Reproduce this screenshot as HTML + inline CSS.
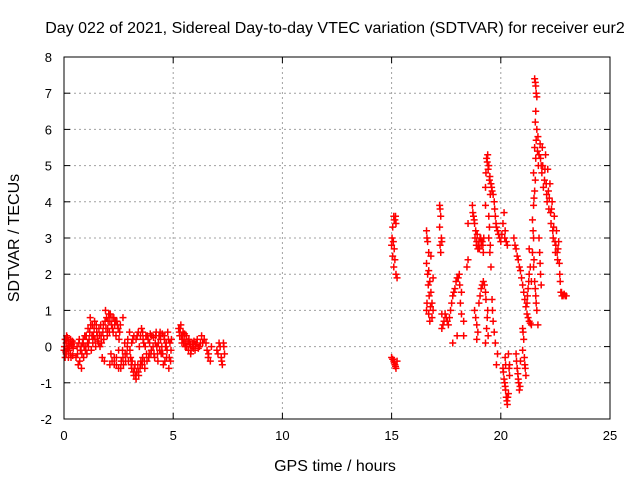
<!DOCTYPE html>
<html><head><meta charset="utf-8"><style>
body{margin:0;background:#fff}
svg{display:block;font-family:"Liberation Sans",sans-serif}
</style></head><body>
<svg id="c" width="640" height="480" xmlns="http://www.w3.org/2000/svg">
<text x="335" y="33" text-anchor="middle" font-size="16">Day 022 of 2021, Sidereal Day-to-day VTEC variation (SDTVAR) for receiver eur2</text>
<text x="335" y="471" text-anchor="middle" font-size="16">GPS time / hours</text>
<text transform="translate(19,238) rotate(-90)" text-anchor="middle" font-size="16">SDTVAR / TECUs</text>
<g id="grid"></g>
<g id="ticks"></g>
<g id="pts"></g>
<rect x="64" y="57" width="546" height="362" fill="none" stroke="#000" stroke-width="1"/>
</svg>
<script>
const xTicks=[0,5,10,15,20,25];
const yTicks=[-2,-1,0,1,2,3,4,5,6,7,8];
const hours=[0.00,0.05,0.05,0.1,0.1,0.15,0.15,0.2,0.2,0.25,0.3,0.3,0.35,0.4,0.45,
0.55,0.6,0.65,0.7,0.75,0.8,0.85,0.9,0.95,1.0,1.05,1.1,1.15,1.2,1.25,1.3,1.35,1.4,1.45,1.5,1.55,1.6,1.65,1.7,1.75,1.8,1.85,1.9,1.95,2.0,2.05,2.1,2.1,2.15,2.2,2.25,2.3,2.35,2.4,2.45,2.5,2.55,2.6,2.7,2.7,2.8,2.9,2.95,3.0,3.05,3.1,3.15,3.2,3.25,3.3,3.35,3.4,3.45,3.5,3.55,3.6,3.65,3.7,3.75,3.8,3.85,3.9,3.95,4.0,4.1,4.15,4.2,4.25,4.3,4.35,4.4,4.45,4.5,4.55,4.6,4.65,4.7,4.75,4.8,4.85,4.9,
5.25,5.3,5.35,5.4,5.45,5.5,5.55,5.6,5.7,5.75,5.8,5.9,5.95,6.0,6.1,6.2,6.3,6.35,6.5,6.6,6.7,6.75,7.0,7.1,7.2,7.25,7.3,7.35,
15.0,15.05,15.1,15.15,15.2,15.05,15.1,15.2,15.25,15.0,15.1,15.15,15.2,15.25,
16.6,16.65,16.7,16.6,16.7,16.75,16.8,16.85,16.6,16.9,16.75,16.8,16.9,17.2,17.25,17.2,17.3,17.25,17.3,17.3,17.4,17.5,17.6,17.7,17.8,17.9,18.0,18.1,18.2,18.15,18.2,18.3,18.3,18.0,17.8,
18.5,18.5,18.45,18.7,18.75,18.8,18.85,18.9,18.95,19.0,19.05,19.1,19.15,19.2,
18.8,18.9,18.9,19.0,19.1,19.2,19.3,19.4,19.35,19.3,
19.3,19.3,19.35,19.4,19.45,19.5,19.55,19.45,19.45,19.5,19.55,19.6,19.7,19.75,19.8,19.9,20.0,20.05,20.15,20.2,20.25,20.3,19.6,19.65,19.75,19.8,19.85,
20.1,20.15,20.2,20.25,20.3,20.35,20.4,20.2,20.4,
20.6,20.7,20.8,20.9,21.0,21.1,21.2,21.3,21.4,20.7,20.75,20.8,20.85,20.9,21.0,21.05,21.0,21.1,21.15,21.2,21.25,21.3,21.3,21.4,
21.55,21.6,21.65,21.6,21.65,21.55,21.6,21.7,21.5,21.55,21.5,21.45,21.5,21.45,21.5,21.55,21.6,21.65,21.7,21.8,21.85,21.9,22.0,22.05,22.1,22.15,22.2,22.25,22.3,22.35,22.4,22.45,22.5,22.55,22.6,22.65,22.7,22.75,22.8,22.9,23.0,21.75,21.8,21.85,
0.02,0.08,0.12,0.18,0.22,0.28,0.32,0.38,0.42,
0.62,0.68,0.72,0.78,0.82,0.88,0.92,0.98,1.02,1.08,
1.12,1.18,1.22,1.28,1.32,1.38,1.42,1.48,1.52,1.58,1.62,1.68,1.72,1.78,1.82,1.88,
1.92,1.98,2.02,2.08,2.12,2.18,2.22,2.28,2.32,2.38,2.42,2.48,2.52,2.58,2.2,2.3,2.4,2.5,
2.62,2.68,2.72,2.78,2.82,2.88,2.92,
3.02,3.08,3.12,3.18,3.22,3.28,3.32,3.38,3.42,3.48,3.52,3.58,3.1,3.2,3.3,3.4,3.5,3.6,
3.62,3.68,3.72,3.78,3.82,3.88,3.92,3.98,4.02,4.08,4.12,4.18,4.22,4.28,4.32,4.38,4.42,4.48,4.52,4.58,4.62,4.68,4.72,4.78,4.82,4.88,4.92,
5.28,5.32,5.38,5.42,5.48,5.52,5.58,5.62,5.68,5.72,5.78,5.82,5.88,5.92,6.02,6.08,6.15,6.25,6.42,6.55,6.62,7.05,7.15,7.22,7.32,
15.02,15.08,15.12,15.18,15.12,15.15,15.05,15.12,15.18,
16.62,16.65,16.68,16.72,16.62,16.78,16.7,16.85,17.22,17.28,17.22,17.35,17.45,17.55,17.65,17.75,17.85,17.95,18.05,18.12,
18.72,18.78,18.82,18.88,18.92,18.98,19.02,19.08,19.12,19.18,19.22,18.85,18.95,19.05,19.15,19.25,19.32,19.38,19.42,
19.32,19.38,19.42,19.48,19.52,19.58,19.65,19.72,19.78,19.85,19.95,20.1,20.18,19.48,19.52,19.62,19.7,
20.12,20.18,20.22,20.28,20.32,20.22,20.35,20.38,
20.65,20.75,20.85,20.95,21.05,21.15,21.25,21.35,20.72,20.78,20.82,20.88,21.02,21.08,21.12,21.22,21.28,21.35,
21.58,21.62,21.58,21.62,21.68,21.72,21.58,21.52,21.48,21.52,21.58,21.62,21.75,21.82,21.88,21.92,21.95,22.02,22.08,22.12,22.18,22.22,22.28,22.32,22.38,22.42,22.48,22.52,22.58,22.62,22.68,22.72,22.78,22.85,22.95,21.78,21.82];
const sdtvar=[-0.1,0.2,-0.3,0.1,-0.2,0.25,-0.05,-0.3,0.15,0.0,-0.2,0.2,0.05,-0.25,0.1,
-0.3,0.0,-0.5,0.2,-0.1,-0.6,0.1,-0.3,0.3,0.0,-0.2,0.5,0.2,0.8,-0.1,0.6,0.3,0.7,0.0,0.4,0.15,0.5,0.0,0.3,-0.3,0.6,-0.4,1.0,0.8,0.5,0.9,-0.5,0.7,-0.2,0.8,0.4,-0.3,0.7,-0.5,0.6,-0.1,0.4,-0.6,0.8,-0.3,-0.2,0.0,-0.4,0.4,-0.3,-0.6,0.2,-0.8,-0.5,-0.9,0.3,-0.7,0.0,-0.5,0.5,-0.3,0.1,-0.6,0.3,-0.4,0.2,-0.2,0.35,-0.1,0.25,-0.3,0.3,0.0,-0.4,0.3,0.4,-0.2,0.35,-0.5,0.2,0.0,-0.3,0.4,-0.6,0.1,-0.1,
0.5,0.3,0.6,0.1,0.4,0.2,0.0,0.3,-0.1,0.1,-0.2,0.0,0.15,-0.1,0.2,0.0,0.3,0.1,0.1,-0.3,-0.4,0.0,-0.1,0.1,-0.3,-0.5,0.1,-0.2,
2.8,3.3,3.6,3.5,3.4,2.5,2.2,2.0,1.9,-0.3,-0.4,-0.5,-0.6,-0.4,
3.2,2.9,2.6,2.3,2.1,1.8,1.5,1.2,1.0,1.0,0.7,2.5,1.9,3.9,3.6,3.3,2.9,2.6,0.9,0.5,0.7,0.8,0.6,1.0,1.4,1.6,1.9,2.0,1.5,1.2,0.9,0.7,0.3,0.3,0.1,
3.4,2.4,2.2,3.9,3.6,3.4,3.2,2.9,2.7,2.9,3.0,2.8,2.9,2.6,
1.0,0.6,0.2,1.2,1.6,1.8,1.5,1.0,0.5,0.1,
4.4,3.9,5.2,5.3,5.0,4.7,4.5,3.6,3.0,2.6,2.2,4.3,4.0,3.6,3.3,3.1,2.9,3.1,3.7,3.2,2.9,2.8,1.3,0.7,0.1,-0.5,-0.2,
-0.6,-0.9,-1.1,-1.4,-1.6,-1.3,-0.5,-0.3,-0.8,
3.0,2.7,2.4,2.1,1.7,1.3,0.9,0.7,0.6,-0.2,-0.6,-0.9,-1.2,-0.4,0.5,0.2,-0.1,-0.5,-0.8,1.2,1.6,2.0,2.7,1.8,
7.4,7.2,6.9,6.5,6.0,5.5,5.2,5.8,4.8,4.3,3.9,3.5,3.0,2.6,2.2,1.8,1.4,1.0,0.6,5.6,5.0,5.5,4.6,5.3,4.2,4.9,3.8,4.5,3.4,4.0,3.0,3.6,2.6,3.2,2.4,2.9,2.0,1.5,1.4,1.45,1.4,3.0,2.3,1.7,
0.0,-0.15,0.3,0.0,-0.1,0.1,-0.3,0.15,-0.05,
-0.2,0.1,-0.4,0.0,-0.2,0.2,0.0,-0.1,0.3,0.1,
0.0,0.4,0.6,0.3,0.1,0.5,0.2,0.6,0.3,0.1,0.3,0.6,0.1,0.4,0.2,0.7,
0.5,0.3,0.7,0.4,0.9,0.6,0.5,0.8,0.6,0.3,0.7,0.5,0.2,0.6,-0.4,-0.5,-0.3,-0.6,
-0.4,-0.1,-0.5,0.1,-0.4,-0.2,0.2,
-0.1,-0.5,-0.4,-0.7,-0.6,-0.8,-0.7,-0.5,-0.8,-0.6,-0.4,-0.5,0.1,0.3,0.2,0.4,0.3,0.4,
0.2,-0.4,0.0,-0.2,0.3,-0.3,0.1,-0.2,0.3,0.0,-0.2,0.1,0.4,-0.2,0.1,-0.1,0.2,0.0,-0.2,0.3,-0.4,0.1,-0.1,0.2,-0.3,-0.4,0.2,
0.4,0.5,0.3,0.2,0.1,0.35,0.1,0.0,0.15,0.2,0.05,-0.1,0.1,-0.05,0.05,0.1,-0.05,0.1,0.2,-0.1,-0.2,-0.2,0.0,-0.4,0.0,
3.0,2.9,3.5,3.6,2.7,2.4,-0.35,-0.45,-0.55,
3.0,2.0,1.7,1.4,1.2,1.1,0.9,0.8,3.8,3.0,2.8,0.6,0.9,0.7,0.8,1.2,1.5,1.8,1.9,1.7,
3.7,3.5,3.0,2.8,3.1,2.8,2.7,3.0,2.9,2.8,3.0,0.8,0.4,1.4,1.7,1.7,1.3,0.8,0.3,
4.8,5.1,4.9,4.6,4.2,4.4,4.2,3.8,3.4,3.2,3.0,3.4,3.0,3.3,2.8,1.0,0.4,
-0.7,-1.0,-1.2,-1.5,-1.4,-0.5,-0.2,-0.6,
2.8,2.5,2.2,1.9,1.5,1.1,0.8,0.65,-0.4,-0.75,-1.0,-1.1,0.4,-0.3,-0.6,1.4,1.8,2.2,
7.3,7.0,6.2,5.7,5.4,5.0,4.6,4.1,3.2,2.4,1.6,1.2,5.3,5.2,4.8,5.0,4.4,4.9,4.5,4.0,4.3,4.1,3.7,3.8,3.2,3.3,2.9,2.8,2.6,2.7,2.3,1.8,1.5,1.4,1.4,2.6,2.0];
const NS="http://www.w3.org/2000/svg";
const L=64,R=610,T=57,B=419;
function sx(h){return L+(h-0)/(25-0)*(R-L);}
function sy(v){return B-(v+2)/(8+2)*(B-T);}
function mk(tag,attrs,parent){const e=document.createElementNS(NS,tag);for(const k in attrs)e.setAttribute(k,attrs[k]);parent.appendChild(e);return e;}
const grid=document.getElementById('grid'),ticks=document.getElementById('ticks'),pts=document.getElementById('pts');
xTicks.forEach(t=>{const x=sx(t);
 if(t>0&&t<25){const g=mk('line',{x1:x,x2:x,y1:T,y2:B,stroke:'#a0a0a0','stroke-dasharray':'2,3'},grid);
 
 }
 mk('line',{x1:x,x2:x,y1:B,y2:B-6,stroke:'#000'},ticks);mk('line',{x1:x,x2:x,y1:T,y2:T+6,stroke:'#000'},ticks);
 const tx=mk('text',{x:x,y:B+21,'text-anchor':'middle','font-size':'13'},ticks);tx.textContent=t;
 
 });
yTicks.forEach(t=>{const y=sy(t);
 if(t>-2&&t<8){const g=mk('line',{x1:L,x2:R,y1:y,y2:y,stroke:'#a0a0a0','stroke-dasharray':'2,3'},grid);
 
 }
 mk('line',{x1:L,x2:L+6,y1:y,y2:y,stroke:'#000'},ticks);mk('line',{x1:R,x2:R-6,y1:y,y2:y,stroke:'#000'},ticks);
 const tx=mk('text',{x:L-12,y:y+5,'text-anchor':'end','font-size':'13'},ticks);tx.textContent=t;
 
 });
let d='';
for(let i=0;i<hours.length;i++){const x=sx(hours[i]),y=sy(sdtvar[i]);d+=`M${x-3.5},${y}h7M${x},${y-3.5}v7`;}
const p=mk('path',{d:d,stroke:'#ff0000','stroke-width':'1.5',fill:'none'},pts);


</script>
</body></html>
